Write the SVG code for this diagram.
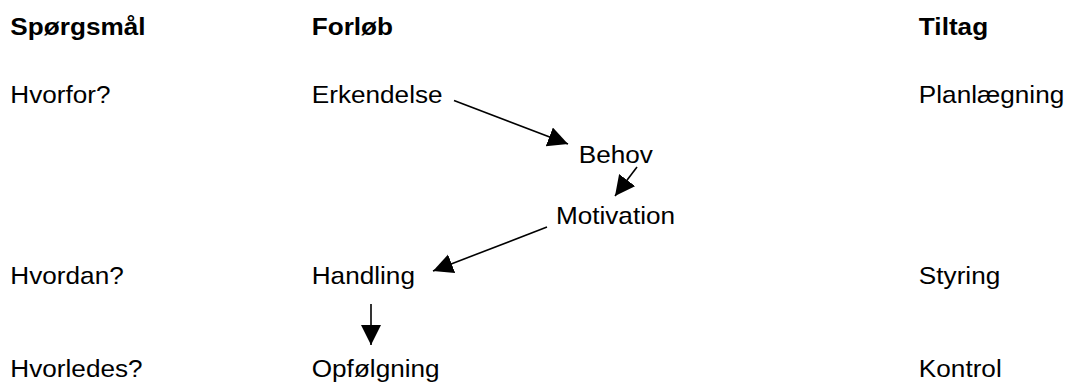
<svg xmlns="http://www.w3.org/2000/svg" width="1068" height="382" viewBox="0 0 1068 382">
<style>
text{font-family:"Liberation Sans",Arial,sans-serif;font-size:24px;fill:#000}
.h{font-weight:bold}
.c{stroke:#000;stroke-width:1.6;fill:none;marker-end:url(#ah)}
</style>
<defs>
<marker id="ah" markerUnits="userSpaceOnUse" markerWidth="22" markerHeight="22" refX="20" refY="10" orient="auto" viewBox="0 0 22 22">
<path d="M0,0 L20,10 L0,20 z" fill="#000"/>
</marker>
</defs>
<rect width="1068" height="382" fill="#fff"/>
<g id="headers">
<text class="h" transform="scale(1.09 1)" x="9.5" y="35">Spørgsmål</text>
<text class="h" transform="scale(1.09 1)" x="286" y="35">Forløb</text>
<text class="h" transform="scale(1.09 1)" x="843" y="35">Tiltag</text>
</g>
<g id="q-hvorfor"><text transform="scale(1.09 1)" x="9.5" y="103">Hvorfor?</text></g>
<g id="q-hvordan"><text transform="scale(1.09 1)" x="9.5" y="284">Hvordan?</text></g>
<g id="q-hvorledes"><text transform="scale(1.09 1)" x="9.5" y="377">Hvorledes?</text></g>
<g id="erkendelse"><text transform="scale(1.09 1)" x="286" y="103">Erkendelse</text></g>
<g id="behov"><text transform="scale(1.09 1)" x="531" y="163">Behov</text></g>
<g id="motivation"><text transform="scale(1.09 1)" x="510" y="224">Motivation</text></g>
<g id="handling"><text transform="scale(1.09 1)" x="286" y="284">Handling</text></g>
<g id="opfoelgning"><text transform="scale(1.09 1)" x="286" y="377">Opfølgning</text></g>
<g id="planlaegning"><text transform="scale(1.09 1)" x="843" y="103">Planlægning</text></g>
<g id="styring"><text transform="scale(1.09 1)" x="843" y="284">Styring</text></g>
<g id="kontrol"><text transform="scale(1.09 1)" x="843" y="377">Kontrol</text></g>
<g id="connectors">
<line class="c" x1="454" y1="100.5" x2="568" y2="144"/>
<line class="c" x1="637" y1="167" x2="615" y2="196"/>
<line class="c" x1="547" y1="227" x2="433" y2="271"/>
<line class="c" x1="371" y1="304" x2="371" y2="345"/>
</g>
</svg>
